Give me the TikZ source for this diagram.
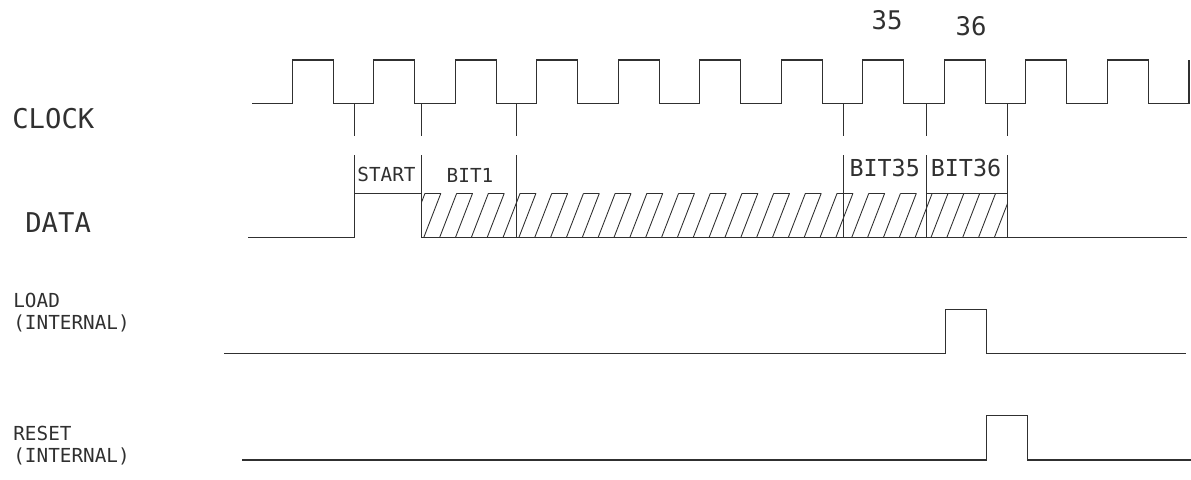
\documentclass[tikz,border=0pt]{standalone}
\usepackage{fontspec}
\newfontfamily\cadfont{DejaVu Sans Mono}
\definecolor{ink}{HTML}{303030}
\begin{document}
\begin{tikzpicture}[x=0.02cm,y=-0.02cm,
  wave/.style={draw=ink,line width=0.6pt,line join=miter},
  tick/.style={draw=ink,line width=0.5pt},
  hatch/.style={draw=ink,line width=0.5pt},
  sig/.style={font=\cadfont\fontsize{15.5pt}{17pt}\selectfont,text=ink,inner sep=0pt,anchor=west},
  sigsmall/.style={font=\cadfont\fontsize{11pt}{12pt}\selectfont,text=ink,inner sep=0pt,anchor=west},
  bitlbl/.style={font=\cadfont\fontsize{11pt}{12pt}\selectfont,text=ink,inner sep=0pt},
  bigbit/.style={font=\cadfont\fontsize{13.3pt}{14pt}\selectfont,text=ink,inner sep=0pt},
  numlbl/.style={font=\cadfont\fontsize{14.6pt}{16pt}\selectfont,text=ink,inner sep=0pt}]
\useasboundingbox (0,0) rectangle (1191,480);

% ---- labels on the left
\node[sig] (clk) at (12,119) {CLOCK};
\node[sig] (dat) at (25,223) {DATA};
\node[sigsmall] (ld) at (13,300) {LOAD};
\node[sigsmall] (ldi) at (13,323) {(INTERNAL)};
\node[sigsmall] (rs) at (13,433) {RESET};
\node[sigsmall] (rsi) at (13,456) {(INTERNAL)};

% ---- clock
\draw[wave] (252,103.5)
  \foreach \k in {0,...,10}{
    -- ({292.3+81.5*\k},103.5) -- ({292.3+81.5*\k},60)
    -- ({333.3+81.5*\k},60) -- ({333.3+81.5*\k},103.5)}
  -- (1189,103.5) -- (1189,60);

\node[numlbl] (n35) at (887,20) {35};
\node[numlbl] (n36) at (971,26) {36};

% ---- ticks under the clock
\foreach \x in {354.3,421,516.7,843.3,926,1007}{
  \draw[tick] (\x,103.5) -- (\x,136);
  \draw[tick] (\x,155) -- (\x,237.3);
}

% ---- data
\draw[wave] (248,237.3) -- (354.3,237.3) -- (354.3,193.3) -- (421,193.3);
\draw[wave] (421,237.3) -- (1187,237.3);
\begin{scope}
  \clip (421,190) rectangle (1007,240);
  \foreach \k in {0,...,38}{
    \pgfmathsetmacro{\t}{425+15.85*\k}
    \draw[hatch] (\t,193.3) -- ({\t-17},237.3);
  }
  \foreach \k in {0,...,18}{
    \pgfmathsetmacro{\t}{425+31.7*\k}
    \draw[hatch] (\t,193.3) -- ({\t+15.85},193.3);
  }
  \draw[hatch] (926,193.3) -- (1007,193.3);
\end{scope}

\node[bitlbl] (start) at (386.5,174) {START};
\node[bitlbl] (b1) at (470,175) {BIT1};
\node[bigbit] (b35) at (884.7,168) {BIT35};
\node[bigbit] (b36) at (966,168) {BIT36};

% ---- load
\draw[wave] (224,353.3) -- (945.7,353.3) -- (945.7,309.3) -- (986.7,309.3)
  -- (986.7,353.3) -- (1186,353.3);
% ---- reset
\draw[wave] (242,460) -- (986.7,460) -- (986.7,415.7) -- (1027.3,415.7)
  -- (1027.3,460) -- (1191,460);
\end{tikzpicture}
\end{document}
